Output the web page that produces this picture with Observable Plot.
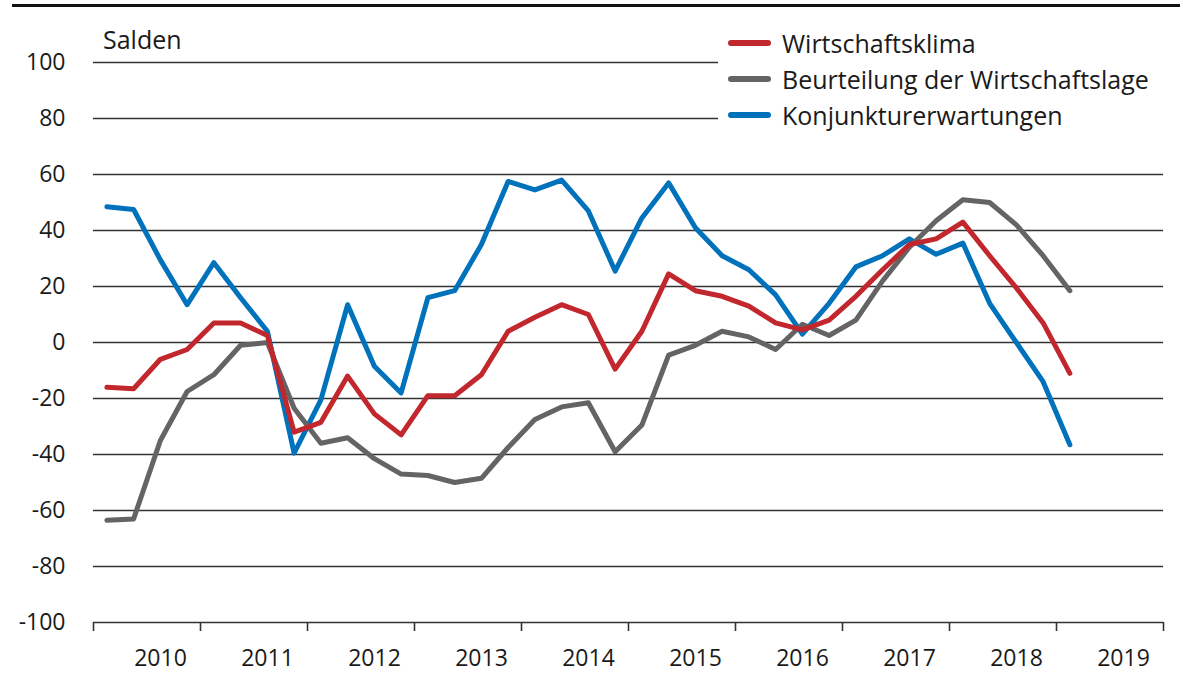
<!DOCTYPE html>
<html>
<head>
<meta charset="utf-8">
<script src="https://cdn.jsdelivr.net/npm/d3@7"></script>
<script src="https://cdn.jsdelivr.net/npm/@observablehq/plot@0.6"></script>
<style>
  html, body { margin: 0; padding: 0; background: #fff; }
  #wrap { position: relative; width: 1192px; height: 676px; font-family: "Open Sans", sans-serif; color: #1a1a1a; }
  #toprule { position: absolute; left: 12px; top: 4px; width: 1168px; height: 3px; background: #111; }
  #salden { position: absolute; left: 103px; top: 27px; font-size: 25px; line-height: 25px; }
  #legend { position: absolute; left: 718px; top: 22px; width: 474px; height: 108px; background: #fff; padding-top: 3px; box-sizing: border-box; }
  .row { display: flex; align-items: center; height: 36px; font-size: 25px; }
  .sw { margin-left: 10px; margin-right: 11px; width: 43px; height: 6px; border-radius: 3px; }
  svg { position: absolute; left: 0; top: 0; }
</style>
</head>
<body>
<div id="wrap">
  <div id="chart"></div>
  <div id="toprule"></div>
  <div id="salden">Salden</div>
  <div id="legend"></div>
</div>
<script>
// Series (quarterly, 2010 Q1 – 2019 Q1)
const startYear = 2010;
const seriesNames = ["Wirtschaftsklima", "Beurteilung der Wirtschaftslage", "Konjunkturerwartungen"];
const seriesColors = ["#c1272d", "#646464", "#0072bc"];

const wirtschaftsklima = [
  -16, -16.5, -6, -2.5, 7, 7, 2.5, -32, -28.5, -12, -25.5, -33, -19, -19, -11.5, 4, 9, 13.5, 10,
  -9.5, 4, 24.5, 18.5, 16.5, 13, 7, 4.5, 8, 16.5, 26, 35, 37, 43, 31, 19.5, 7, -11
];
const beurteilung = [
  -63.5, -63, -35, -17.5, -11.5, -1, 0, -23.5, -36, -34, -41.5, -47, -47.5, -50, -48.5, -37.5, -27.5, -23, -21.5,
  -39, -29.5, -4.5, -1, 4, 2, -2.5, 6.5, 2.5, 8, 22, 34, 43.5, 51, 50, 42, 31, 18.5
];
const erwartungen = [
  48.5, 47.5, 29.5, 13.5, 28.5, 16, 4, -39.5, -20.5, 13.5, -8.5, -18, 16, 18.5, 35, 57.5, 54.5, 58, 47,
  25.5, 44.5, 57, 41, 31, 26, 17, 3, 14, 27, 31, 37, 31.5, 35.5, 14, 0, -14, -36.5
];

const yTicks = [-100, -80, -60, -40, -20, 0, 20, 40, 60, 80, 100];
const yearEdges = [2010, 2011, 2012, 2013, 2014, 2015, 2016, 2017, 2018, 2019, 2020];
const yearLabels = [2010, 2011, 2012, 2013, 2014, 2015, 2016, 2017, 2018, 2019];

// quarter midpoint as decimal year
const qTime = i => startYear + (i + 0.5) / 4;
const toRows = (vals, name) => vals.map((v, i) => ({t: qTime(i), v, name}));

const dataRed = toRows(wirtschaftsklima, seriesNames[0]);
const dataGray = toRows(beurteilung, seriesNames[1]);
const dataBlue = toRows(erwartungen, seriesNames[2]);

const fontSize = 23;
const chart = Plot.plot({
  width: 1192,
  height: 676,
  marginLeft: 93,
  marginRight: 29,
  marginTop: 62,
  marginBottom: 54,
  style: {fontFamily: "'Open Sans', sans-serif", fontSize: fontSize + "px", color: "#1a1a1a", background: "transparent"},
  x: {type: "linear", domain: [2010, 2020]},
  y: {domain: [-100, 100]},
  marks: [
    Plot.ruleY(yTicks, {stroke: "#333", strokeWidth: 1.6}),
    Plot.axisY({ticks: yTicks, tickSize: 0, tickPadding: 28, tickFormat: d => String(d), fontSize, label: null}),
    Plot.axisX({ticks: yearEdges, tickSize: 9, tickFormat: () => "", stroke: "#333", strokeWidth: 1.6, label: null}),
    Plot.axisX({ticks: yearLabels, tickSize: 0, tickPadding: 27, dx: 67, tickFormat: d => String(d), fontSize, label: null}),
    Plot.line(dataBlue, {x: "t", y: "v", stroke: seriesColors[2], strokeWidth: 5, strokeLinejoin: "round", strokeLinecap: "round"}),
    Plot.line(dataGray, {x: "t", y: "v", stroke: seriesColors[1], strokeWidth: 5, strokeLinejoin: "round", strokeLinecap: "round"}),
    Plot.line(dataRed, {x: "t", y: "v", stroke: seriesColors[0], strokeWidth: 5, strokeLinejoin: "round", strokeLinecap: "round"})
  ]
});
document.getElementById("chart").appendChild(chart);

const legend = document.getElementById("legend");
seriesNames.forEach((n, i) => {
  const row = document.createElement("div");
  row.className = "row";
  const sw = document.createElement("div");
  sw.className = "sw";
  sw.style.background = seriesColors[i];
  const tx = document.createElement("span");
  tx.textContent = n;
  row.appendChild(sw);
  row.appendChild(tx);
  legend.appendChild(row);
});
</script>
</body>
</html>
